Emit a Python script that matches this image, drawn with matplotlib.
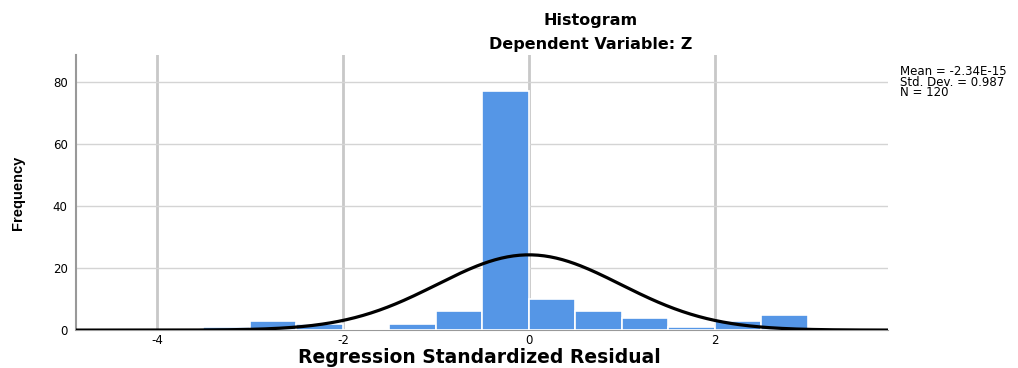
import numpy as np
import matplotlib
matplotlib.use('Agg')
import matplotlib.pyplot as plt

# histogram bins (bin width 0.5) and counts
bin_edges = [-3.5, -3.0, -2.5, -2.0, -1.5, -1.0, -0.5, 0.0, 0.5, 1.0, 1.5, 2.0, 2.5, 3.0]
counts = [1, 3, 2, 0, 2, 6, 77, 10, 6, 4, 1, 3, 5]

# summary stats shown in the corner
mean = -2.34e-15
std_dev = 0.987
n_obs = 120

x_ticks = [-4, -2, 0, 2]
y_ticks = [0, 20, 40, 60, 80]

plt.rcParams['font.family'] = ['DejaVu Sans']

fig = plt.figure(figsize=(10.18, 3.68), dpi=100)
ax = fig.add_axes([0.0747, 0.103, 0.7975, 0.748])

lefts = bin_edges[:-1]
widths = np.diff(bin_edges)
ax.bar(lefts, counts, width=widths, align='edge', color='#5596e6',
       edgecolor='white', linewidth=1.2, zorder=3)

# normal curve scaled to frequency
bw = widths[0]
xs = np.linspace(-4.87, 3.86, 400)
ys = n_obs * bw / (std_dev * np.sqrt(2 * np.pi)) * np.exp(-0.5 * ((xs - mean) / std_dev) ** 2)
ax.plot(xs, ys, color='black', linewidth=2.3, zorder=4)

ax.set_xlim(-4.87, 3.86)
ax.set_ylim(0, 88.7)
ax.set_xticks(x_ticks)
ax.set_xticklabels([str(t) for t in x_ticks])
ax.set_yticks(y_ticks)
ax.tick_params(axis='x', length=0, labelsize=8.5, pad=3)
ax.tick_params(axis='y', length=0, labelsize=8.5, pad=6)

for t in x_ticks:
    ax.axvline(t, color='#c8c8c8', linewidth=2, zorder=1)
for t in y_ticks[1:]:
    ax.axhline(t, color='#d4d4d4', linewidth=1, zorder=1)

for s in ['top', 'right']:
    ax.spines[s].set_visible(False)
ax.spines['left'].set_color('#999999')
ax.spines['left'].set_linewidth(1.5)
ax.spines['bottom'].set_color('#999999')

fig.text(0.471, 0.028, "Regression Standardized Residual", ha='center', va='center',
         fontsize=13.5, fontweight='bold')
fig.text(0.018, 0.476, "Frequency", ha='center', va='center', rotation=90,
         fontsize=10.5, fontweight='bold', family=['Liberation Sans'])

fig.text(0.58, 0.945, "Histogram", ha='center', va='center', fontsize=11.5, fontweight='bold')
fig.text(0.58, 0.88, "Dependent Variable: Z", ha='center', va='center', fontsize=11.5, fontweight='bold')

fig.text(0.884, 0.777, f"Mean = -2.34E-15\nStd. Dev. = {std_dev}\nN = {n_obs}",
         ha='left', va='center', fontsize=8.5, linespacing=0.72)

fig.savefig("out.png", dpi=100)
